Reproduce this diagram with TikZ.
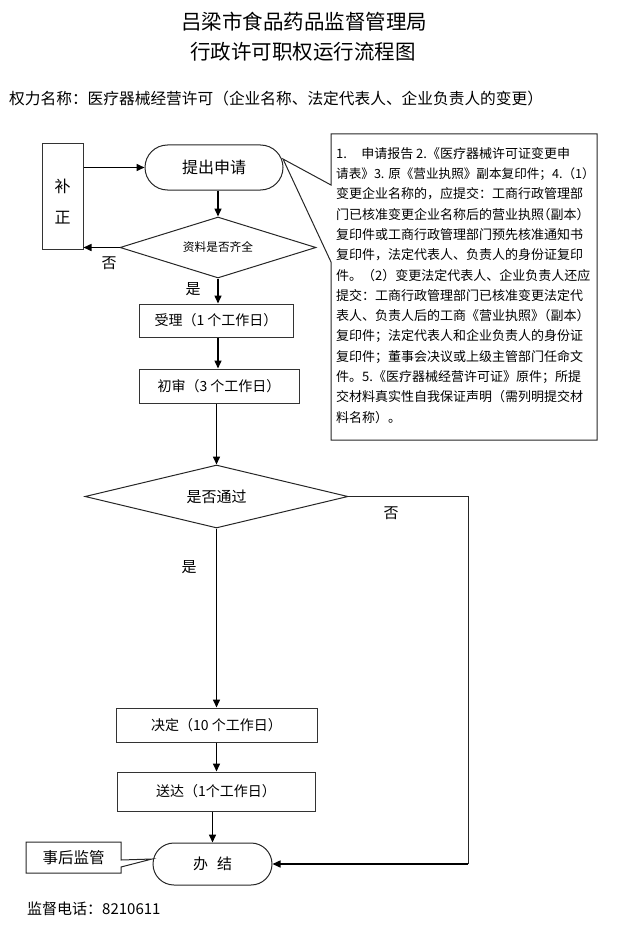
\documentclass[tikz,border=0pt]{standalone}
\usepackage{fontspec}
\setmainfont{Noto Sans CJK SC}
\newfontfamily\halfpunct[RawFeature=+halt]{Noto Sans CJK SC}
\usetikzlibrary{shapes.geometric,shapes.misc,arrows.meta,positioning}
\tikzset{
  box/.style={draw=black!80, line width=1pt, rectangle, inner sep=0pt, font=\fontsize{14}{16}\selectfont},
  stadium/.style={draw=black!85, line width=1pt, rounded rectangle, inner sep=0pt},
  decision/.style={draw=black!85, line width=1pt, diamond, inner sep=0pt},
  arr/.style={-{Triangle[length=8pt,width=7pt]}, line width=1.5pt},
  thin/.style={line width=1pt, draw=black!85},
  lbl/.style={inner sep=0pt, font=\fontsize{15}{17}\selectfont}
}
\begin{document}
\begin{tikzpicture}[x=1pt, y=-1pt]
\useasboundingbox (0,0) rectangle (617,928);
% titles
\node (title) at (304,22) {\fontsize{20.5}{24}\selectfont 吕梁市食品药品监督管理局};
\node (subtitle) at (303,52) {\fontsize{20.5}{24}\selectfont 行政许可职权运行流程图};
\node (power) [anchor=west, inner sep=0pt] at (9,99)
  {\fontsize{15.7}{18}\selectfont 权力名称：医疗器械经营许可（企业名称、法定代表人、企业负责人的变更）};
% flow
\node (fix) [box, minimum width=41pt, minimum height=105pt, align=center, font=\fontsize{16}{18}\selectfont]
  at (62.5,196.5) {\rule{0pt}{24pt}补\\[13pt]正};
\node (apply) [stadium, minimum width=138pt, minimum height=45pt, font=\fontsize{16}{18}\selectfont]
  at (214,167.5) {提出申请};
\node (complete) [decision, aspect=3.2, minimum width=196pt, minimum height=61pt, font=\fontsize{11.7}{13}\selectfont]
  at (218,247.5) {资料是否齐全};
\node (accept) [box, minimum width=154pt, minimum height=33pt] at (216,320.5) {受理（1 个工作日）};
\node (review) [box, minimum width=160pt, minimum height=34pt] at (219,386) {初审（3 个工作日）};
\node (check) [decision, aspect=4.2, minimum width=263pt, minimum height=63pt, font=\fontsize{15}{17}\selectfont]
  at (216.5,496.5) {是否通过};
\node (decide) [box, minimum width=201pt, minimum height=34pt] at (216.5,725) {决定（10 个工作日）};
\node (deliver) [box, minimum width=198pt, minimum height=39pt] at (216,791.5) {送达（1个工作日）};
\node (finish) [stadium, minimum width=119pt, minimum height=42pt, font=\fontsize{15}{17}\selectfont]
  at (212.5,864) {办\hspace{0.6em}结};
% labels
\node (no1) [lbl] at (109,263) {否};
\node (yes1) [lbl] at (193,289) {是};
\node (no2) [lbl] at (391,513) {否};
\node (yes2) [lbl] at (189,567) {是};
% connectors
\draw[arr] (fix.east |- apply.west) -- (apply.west);
\draw[arr] (apply.south -| complete.north) -- (complete.north);
\draw[arr] (complete.west) -- (complete.west -| fix.east);
\draw[arr] (complete.south) -- (complete.south |- accept.north);
\draw[arr] (accept.south -| complete.south) -- (complete.south |- review.north);
\draw[arr] (review.south -| check.north) -- (check.north);
\draw[arr] (check.south) -- (check.south |- decide.north);
\draw[arr] (decide.south -| check.south) -- (check.south |- deliver.north);
\draw[arr] (deliver.south -| finish.north) -- (finish.north);
\coordinate (turn) at (468,496.5);
\coordinate (corner) at (468,864);
\draw[thin] (check.east) -- (turn) -- (corner);
\draw[arr] (corner) -- (finish.east);
% document list callout
\coordinate (tip) at (283,159);
\draw[thin] (331,185) -- (tip) -- (331,262) -- (331,440) -- (597,440) -- (597,134) -- (331,134) -- cycle;
\node (docs) [anchor=north west, inner sep=0pt, align=left, font=\fontsize{13}{20.3}\selectfont] at (336,147)
  {1.\hspace{1.1em}申请报告 2.《医疗器械许可证变更申\\
   {\fontsize{12.6}{20.3}\selectfont 请表》3. 原《营业执照》副本复印件；4.（1）}\\
   变更企业名称的，应提交：工商行政管理部\\
   门已核准变更企业名称后的营业执照{\halfpunct （副本）}\\
   复印件或工商行政管理部门预先核准通知书\\
   复印件，法定代表人、负责人的身份证复印\\
   件。（2）变更法定代表人、企业负责人还应\\
   提交：工商行政管理部门已核准变更法定代\\
   表人、负责人后的工商《营业执照》{\halfpunct （副本）}\\
   复印件；法定代表人和企业负责人的身份证\\
   复印件；董事会决议或上级主管部门任命文\\
   件。5.《医疗器械经营许可证》原件；所提\\
   交材料真实性自我保证声明（需列明提交材\\
   料名称）。};
% supervision callout
\coordinate (hook) at (152,859);
\draw[thin] (121,860) -- (hook) -- (121,867) -- (121,873) -- (26,873) -- (26,842) -- (121,842) -- cycle;
\node (after) [lbl, font=\fontsize{15.5}{17}\selectfont] at (73.5,857.5) {事后监管};
\node (phone) [anchor=west, inner sep=0pt, font=\fontsize{15}{17}\selectfont] at (27,909) {监督电话：8210611};
\end{tikzpicture}
\end{document}
